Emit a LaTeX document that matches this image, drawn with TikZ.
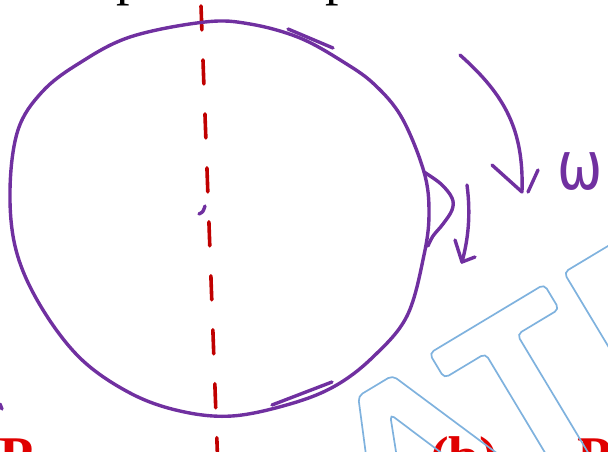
\documentclass[tikz,border=0pt]{standalone}
\usepackage{fontspec}
\setmainfont{Liberation Serif}
\newfontfamily\omegafont{DejaVu Sans}
\usepackage{xcolor}
\definecolor{penpurple}{HTML}{7030A0}
\definecolor{penred}{HTML}{C00000}
\definecolor{textred}{HTML}{E00000}
\definecolor{wmblue}{HTML}{7FB2DE}
\usetikzlibrary{positioning,calc}

\begin{document}
\begin{tikzpicture}[x=1pt,y=1pt,
  pen/.style={draw=penpurple, line width=3.4pt, line cap=round, line join=round},
  axisdash/.style={draw=penred, line width=3.6pt, line cap=round,
                   dash pattern=on 24pt off 30pt},
  redlabel/.style={text=textred, font=\fontsize{56}{60}\selectfont\bfseries,
                   inner sep=0pt, anchor=base west},
  toplabel/.style={font=\fontsize{54}{58}\selectfont, inner sep=0pt, anchor=base west},
  wmline/.style={draw=wmblue, line width=1.7pt, rounded corners=5pt}]

  \useasboundingbox (0,0) rectangle (608,-452);
  \clip (0,0) rectangle (608,-452);

  %% Text lines cut by the frame
  \node[toplabel] (ptopa) at (116,5) {p};
  \node[toplabel] (ptopb) at (325,5) {p};
  \node[redlabel] (pleft)  at (-1,-475) {P};
  \node[redlabel] (partb)  at (430,-475) {(b)};
  \node[redlabel] (pright) at (577,-475) {P};

  %% Axis of the disc
  \coordinate (axtop) at (201,-6);
  \coordinate (axbot) at (218,-470);
  \draw[axisdash] (axtop) -- (axbot);

  %% Disc
  \draw[pen] plot[smooth cycle, tension=0.6] coordinates {
    (10,-190) (18,-130) (42,-92) (78,-64) (130,-37) (205,-22) (250,-24)
    (300,-38) (345,-63) (375,-85) (402,-118) (424,-172) (429,-213)
    (424,-255) (407,-316) (373,-357) (335,-386) (290,-404) (232,-416)
    (180,-411) (130,-393) (80,-358) (40,-305) (16,-250)};
  \draw[pen] plot[smooth, tension=0.6] coordinates {
    (424,-172) (441,-184) (452,-198) (452,-210) (443,-224) (433,-236) (428,-246)};

  %% Centre mark and half arrows on the rim
  \draw[pen] (199,-214) .. controls (203,-212) .. (205,-206);
  \draw[pen] (288,-29) -- (333,-48);
  \draw[pen] (272,-405) -- (332,-382);
  \draw[pen] (0,-404) -- (2,-409);

  %% Rotation arrows
  \coordinate (bigtail) at (460,-55);
  \coordinate (bigtip)  at (522,-192);
  \draw[pen] (bigtail) .. controls (505,-95) and (524,-130) .. (bigtip);
  \draw[pen] (492,-165) -- (bigtip);
  \draw[pen] (528,-192) -- (538,-170);

  \coordinate (smalltail) at (467,-185);
  \coordinate (smalltip)  at (462,-262);
  \draw[pen] (smalltail) .. controls (471,-215) and (468,-240) .. (smalltip);
  \draw[pen] (455,-240) -- (smalltip) -- (475,-257);

  \node[text=penpurple, font=\omegafont\fontsize{54}{54}\selectfont, inner sep=0pt]
    (omega) at (580,-172) {\scalebox{1}[1.25]{ω}};

  %% Watermark letters
  \begin{scope}[rotate=31]
    \draw[wmline] (103,-524) -- (143,-524) -- (217,-704) -- (180,-704)
      -- (168,-672) -- (74,-672) -- (62,-704) -- (25,-704) -- cycle;
    \draw[wmline] (121,-556) -- (155,-640) -- (87,-640) -- cycle;
    \draw[wmline] (186,-524) -- (320,-524) -- (320,-553) -- (271,-553)
      -- (271,-704) -- (234,-704) -- (234,-553) -- (186,-553) -- cycle;
    \draw[wmline] (343,-704) -- (343,-524) -- (415,-524)
      .. controls (470,-524) and (470,-625) .. (415,-625)
      -- (380,-625) -- (380,-704) -- cycle;
    \draw[wmline] (380,-553) -- (410,-553)
      .. controls (435,-553) and (435,-595) .. (410,-595) -- (380,-595) -- cycle;
  \end{scope}

\end{tikzpicture}
\end{document}
